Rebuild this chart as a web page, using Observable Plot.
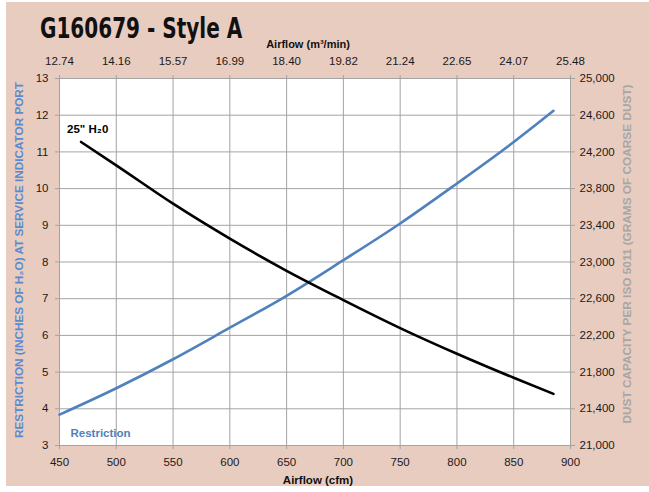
<!DOCTYPE html>
<html><head><meta charset="utf-8">
<script src="https://cdn.jsdelivr.net/npm/d3@7"></script>
<script src="https://cdn.jsdelivr.net/npm/@observablehq/plot@0.6"></script>
<style>
body{margin:0;background:#fff;}
#chart{position:relative;width:649px;height:492px;}
#chart svg{display:block;}
</style></head><body><div id="chart"></div>
<script>
// ---- data ----
const cfm = [450, 500, 550, 600, 650, 700, 750, 800, 850, 885];
const restriction = [3.84, 4.56, 5.35, 6.21, 7.08, 8.05, 9.05, 10.14, 11.27, 12.12];
const dustCfm = [469, 500, 550, 600, 650, 700, 750, 800, 850, 885];
const dust = [24308, 24054, 23636, 23255, 22904, 22585, 22280, 22000, 21738, 21563];
const xTicks = [450, 500, 550, 600, 650, 700, 750, 800, 850, 900];
const yTicks = [3, 4, 5, 6, 7, 8, 9, 10, 11, 12, 13];
const topTickLabels = ["12.74", "14.16", "15.57", "16.99", "18.40", "19.82", "21.24", "22.65", "24.07", "25.48"];
const rightTickValues = [21000, 21400, 21800, 22200, 22600, 23000, 23400, 23800, 24200, 24600, 25000];
const title = "G160679 - Style A";
const topAxisTitle = "Airflow (m³/min)";
const bottomAxisTitle = "Airflow (cfm)";
const leftAxisTitle = "RESTRICTION (INCHES OF H₂O) AT SERVICE INDICATOR PORT";
const rightAxisTitle = "DUST CAPACITY PER ISO 5011 (GRAMS OF COARSE DUST)";
const dustLabel = "25\" H₂0";
const restrictionLabel = "Restriction";

// ---- derived ----
const dustToY = d3.scaleLinear().domain([rightTickValues[0], rightTickValues[rightTickValues.length - 1]]).range([yTicks[0], yTicks[yTicks.length - 1]]);
const restrictionData = cfm.map((c, i) => ({cfm: c, v: restriction[i]}));
const dustData = dustCfm.map((c, i) => ({cfm: c, v: dustToY(dust[i])}));
const fmt = d3.format(",");

const font = "'Liberation Sans', Arial, Helvetica, sans-serif";
const gridColor = "#a3a3a3";
const blue = "#4f81bd";

const W = 649, H = 492, mL = 59, mR = 79, mT = 78, mB = 47;

const plot = Plot.plot({
  width: W, height: H,
  marginLeft: mL, marginRight: mR, marginTop: mT, marginBottom: mB,
  style: {background: "transparent", fontFamily: font, fontSize: "11.5px", color: "#1a1a1a", overflow: "visible"},
  x: {domain: [450, 900]},
  y: {domain: [3, 13]},
  marks: [
    Plot.frame({fill: "white", stroke: "none"}),
    Plot.gridX(xTicks, {stroke: gridColor, strokeOpacity: 1}),
    Plot.gridY(yTicks, {stroke: gridColor, strokeOpacity: 1}),
    Plot.frame({stroke: gridColor}),
    Plot.axisX(xTicks, {anchor: "bottom", tickSize: 4, tickPadding: 8, label: null, stroke: gridColor, fill: "#1a1a1a"}),
    Plot.axisX(xTicks, {anchor: "top", tickSize: 4, tickPadding: 10, label: null, stroke: gridColor, fill: "#1a1a1a",
      tickFormat: d => topTickLabels[xTicks.indexOf(d)]}),
    Plot.axisY(yTicks, {anchor: "left", tickSize: 4, tickPadding: 7, label: null, stroke: gridColor, fill: "#1a1a1a"}),
    Plot.axisY(yTicks, {anchor: "right", tickSize: 4, tickPadding: 5, label: null, stroke: gridColor, fill: "#1a1a1a",
      tickFormat: d => fmt(rightTickValues[yTicks.indexOf(d)])}),
    Plot.line(restrictionData, {x: "cfm", y: "v", stroke: blue, strokeWidth: 2.6, curve: "monotone-x"}),
    Plot.line(dustData, {x: "cfm", y: "v", stroke: "black", strokeWidth: 2.6, curve: "monotone-x"}),
    Plot.text([dustData[0]], {x: "cfm", y: "v", text: () => dustLabel, textAnchor: "start", dx: -14, dy: -13,
      fontWeight: "bold", fontSize: 11.5, fill: "black"}),
    Plot.text([restrictionData[0]], {x: "cfm", y: "v", text: () => restrictionLabel, textAnchor: "start", dx: 11, dy: 19,
      fontWeight: "bold", fontSize: 11.5, fill: blue})
  ]
});

const svg = d3.select(plot);
// background panel
svg.insert("rect", ":first-child").attr("x", 6).attr("y", 2).attr("width", W - 6).attr("height", 484).attr("fill", "#e9ccc0");

const t = svg.append("text").text(title)
  .attr("x", 0).attr("y", 0).attr("text-anchor", "start")
  .attr("font-family", "'DejaVu Sans Condensed', 'Liberation Sans', sans-serif")
  .attr("font-weight", "bold").attr("font-size", 29).attr("fill", "#111");
// squeeze horizontally to the reference's condensed width
const natural = t.node().getComputedTextLength() || 263;
t.attr("transform", `translate(40,38) scale(${(202 / natural).toFixed(4)},1)`);

svg.append("text").text(topAxisTitle)
  .attr("x", 308).attr("y", 48).attr("text-anchor", "middle")
  .attr("font-family", font).attr("font-weight", "bold").attr("font-size", 11).attr("fill", "#111");

svg.append("text").text(bottomAxisTitle)
  .attr("x", 318).attr("y", 484).attr("text-anchor", "middle")
  .attr("font-family", font).attr("font-weight", "bold").attr("font-size", 11.5).attr("fill", "#111");

svg.append("text").text(leftAxisTitle)
  .attr("transform", "translate(23,260) rotate(-90)").attr("text-anchor", "middle")
  .attr("font-family", font).attr("font-weight", "bold").attr("font-size", 10.5).attr("fill", "#5a8ad0")
  .attr("textLength", 356).attr("lengthAdjust", "spacingAndGlyphs");

svg.append("text").text(rightAxisTitle)
  .attr("transform", "translate(631,254) rotate(-90)").attr("text-anchor", "middle")
  .attr("font-family", font).attr("font-weight", "bold").attr("font-size", 10.5).attr("fill", "#a6a6a6")
  .attr("textLength", 339).attr("lengthAdjust", "spacingAndGlyphs");

document.getElementById("chart").appendChild(plot);
</script></body></html>
